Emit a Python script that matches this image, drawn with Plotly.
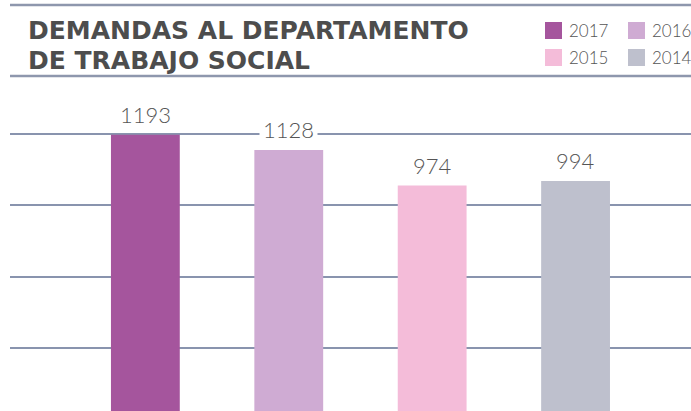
import plotly.graph_objects as go

years = ["2017", "2016", "2015", "2014"]
values = [1193, 1128, 974, 994]
colors = ["#a5559d", "#cfabd3", "#f4bcd9", "#bec0cd"]
title_lines = ["DEMANDAS AL DEPARTAMENTO", "DE TRABAJO SOCIAL"]

W, H = 691, 411
ML, MR, MT, MB = 10, 0, 80, 0
plot_h = H - MT - MB
plot_w = W - ML - MR

def py(pix):  # window pixel -> paper y
    return (H - MB - pix) / plot_h

def px(pix):  # window pixel -> paper x
    return (pix - ML) / plot_w

fig = go.Figure()
fig.add_trace(go.Bar(
    x=years, y=values, marker=dict(color=colors, line=dict(width=0)),
    width=0.48, showlegend=False, hoverinfo="skip",
))

for i, v in enumerate(values):
    fig.add_annotation(
        x=i, y=v, xref="x", yref="y", text=str(v), showarrow=False,
        yanchor="bottom", yshift=3, bgcolor="white", borderpad=3,
        font=dict(family="Lato", size=22, color="#555555", weight=300),
    )

# title (two lines, 30px apart)
for k, line in enumerate(title_lines):
    fig.add_annotation(
        x=px(26), y=py(14 + 30 * k), xref="paper", yref="paper", text=line,
        showarrow=False, xanchor="left", yanchor="top", align="left",
        font=dict(family="DejaVu Sans", size=25, color="#4d4d4d", weight="bold"),
    )

# header rules
for ypix in (5, 76):
    fig.add_shape(type="line", xref="paper", yref="paper",
                  x0=0, x1=1, y0=py(ypix), y1=py(ypix),
                  line=dict(color="#8e97ad", width=2.5))

# legend (2x2)
sq = 17
cols_x = [545, 628]
rows_y = [22, 49]
for i, (yr, c) in enumerate(zip(years, colors)):
    cx = cols_x[i % 2]
    ry = rows_y[i // 2]
    fig.add_shape(type="rect", xref="paper", yref="paper",
                  x0=px(cx), x1=px(cx + sq), y0=py(ry + sq), y1=py(ry),
                  fillcolor=c, line=dict(width=0))
    fig.add_annotation(x=px(cx + sq + 5), y=py(ry + sq / 2), xref="paper", yref="paper",
                       text=yr, showarrow=False, xanchor="left", yanchor="middle",
                       font=dict(family="Lato", size=17, color="#555555", weight=300))

fig.update_layout(
    width=W, height=H, margin=dict(l=ML, r=MR, t=MT, b=MB, pad=0),
    paper_bgcolor="white", plot_bgcolor="white",
    xaxis=dict(type="category", range=[-0.944, 3.805], showticklabels=False,
               showgrid=False, zeroline=False, showline=False, ticks=""),
    yaxis=dict(range=[0, 1430], tick0=272, dtick=308, showticklabels=False,
               showgrid=True, gridcolor="#8994ae", gridwidth=1.5,
               zeroline=False, showline=False, ticks=""),
)

fig.write_html(
    "out.html",
    config={"displayModeBar": False},
    post_script="document.body.style.margin='0';document.body.style.overflow='hidden';",
)
